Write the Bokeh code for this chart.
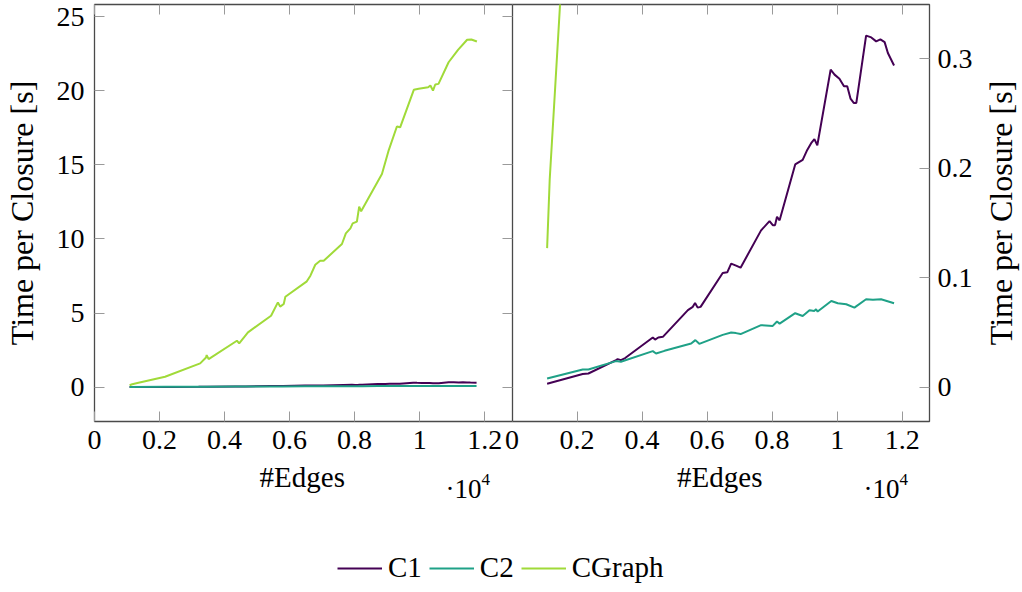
import math
from bokeh.plotting import figure
from bokeh.layouts import column, row
from bokeh.models import Range1d, LinearAxis, FixedTicker, Label, Legend, LegendItem
from bokeh.embed import file_html
from bokeh.resources import INLINE

# ---------------- data ----------------
c1_edges = [1080, 2175, 2350, 3200, 3250, 3350, 3480, 4330, 4400, 4500, 4640, 5410, 5560, 5630, 5710, 5800,
            6480, 6620, 6740, 6890, 7030, 7660, 7920, 8020, 8090, 8150, 8230, 8710, 8940, 9080, 9200, 9300,
            9390, 9800, 9920, 10070, 10210, 10310, 10410, 10510, 10590, 10890, 11050, 11200, 11330, 11460,
            11560, 11750]
c1_time = [0.003, 0.012, 0.0124, 0.0246, 0.0255, 0.0246, 0.0265, 0.0453, 0.0434, 0.0453, 0.0459, 0.0703,
           0.0733, 0.0769, 0.0726, 0.0733, 0.1043, 0.1049, 0.1128, 0.111, 0.1091, 0.1432, 0.1517, 0.148,
           0.148, 0.1557, 0.1524, 0.2035, 0.2077, 0.2168, 0.2229, 0.2266, 0.221, 0.2901, 0.2856, 0.2819,
           0.2749, 0.2749, 0.2637, 0.2597, 0.2597, 0.3212, 0.3196, 0.316, 0.3178, 0.3153, 0.3053, 0.294]

c2_edges = [1080, 2175, 2350, 3200, 3350, 4330, 4430, 4690, 5510, 5640, 5760, 6480, 6740, 6890, 7030, 7660,
            8020, 8150, 8230, 8710, 8940, 9150, 9300, 9350, 9400, 9820, 10020, 10280, 10530, 10890, 11100,
            11350, 11750]
c2_time = [0.0078, 0.0161, 0.0161, 0.0237, 0.0231, 0.0328, 0.0307, 0.0331, 0.0398, 0.0429, 0.0395, 0.0477,
           0.0498, 0.0493, 0.0484, 0.0566, 0.0559, 0.0599, 0.058, 0.0675, 0.065, 0.0702, 0.0696, 0.0711,
           0.069, 0.0787, 0.0766, 0.0757, 0.0726, 0.0803, 0.0797, 0.0803, 0.0766]

cgraph_edges = [1080, 1160, 1320, 2170, 3250, 3430, 3450, 3510, 4380, 4450, 4720, 5430, 5640, 5710, 5820,
                5870, 6530, 6640, 6790, 6940, 7050, 7610, 7730, 7870, 7940, 8070, 8140, 8200, 8840, 9050,
                9300, 9400, 9820, 9970, 10260, 10330, 10410, 10480, 10580, 10890, 11180, 11460, 11590, 11760]
cgraph_time = [0.127, 0.19, 0.27, 0.70, 1.60, 2.00, 2.16, 1.89, 3.13, 2.95, 3.69, 4.82, 5.72, 5.43, 5.61,
               6.10, 7.14, 7.52, 8.26, 8.53, 8.53, 9.66, 10.38, 10.72, 11.05, 11.17, 12.18, 11.87, 14.39,
               16.0, 17.59, 17.54, 20.07, 20.14, 20.24, 20.36, 20.02, 20.43, 20.47, 21.93, 22.77, 23.45,
               23.47, 23.33]

series_names = ["C1", "C2", "CGraph"]
series_colors = ["#440154", "#1fa187", "#a0da39"]

x_tick_values = [0, 2000, 4000, 6000, 8000, 10000, 12000]
x_tick_labels = ["0", "0.2", "0.4", "0.6", "0.8", "1", "1.2"]
left_y_ticks = [0, 5, 10, 15, 20, 25]
right_y_ticks = [0, 0.1, 0.2, 0.3]
right_y_labels = ["0", "0.1", "0.2", "0.3"]
x_label = "#Edges"
y_label = "Time per Closure [s]"
x_scale_base = "\u00b710"
x_scale_exp = "4"

# ---------------- layout constants ----------------
X_MAX = 12840
LEFT_Y = (-2.324, 25.83)
RIGHT_Y = (-0.0315, 0.3497)
W, H = 1022, 592
FL, FT, FW, FH = 93, 4, 835, 417
FB = 37                      # bottom border of the main figure
FR = 50                      # right border of the main figure (tick labels only)
MAIN_H = FT + FH + FB
MAIN_W = FL + FW + FR
FONT = "Liberation Serif"
FRAME_COLOR = "#4a4a4a"
TICK_COLOR = "#9a9a9a"

p = figure(frame_width=FW, frame_height=FH, min_border_left=FL, min_border_right=FR,
           min_border_top=FT, min_border_bottom=FB,
           x_range=Range1d(0, 2 * X_MAX), y_range=Range1d(*LEFT_Y),
           output_backend="svg", toolbar_location=None, background_fill_color="white",
           border_fill_color="white")
p.extra_x_ranges = {"right": Range1d(-X_MAX, X_MAX)}
p.extra_y_ranges = {"right": Range1d(*RIGHT_Y)}
p.grid.visible = False
p.outline_line_color = FRAME_COLOR
p.outline_line_width = 1.3

all_edges = [c1_edges, c2_edges, cgraph_edges]
all_times = [c1_time, c2_time, cgraph_time]

# left panel (full scale) and right panel (zoomed scale)
for e, t, c in zip(all_edges, all_times, series_colors):
    p.line(e, t, line_color=c, line_width=2)
for e, t, c in zip(all_edges, all_times, series_colors):
    p.line(e, t, line_color=c, line_width=2, x_range_name="right", y_range_name="right")

ticks_all = x_tick_values + [X_MAX + v for v in x_tick_values]
overrides = {}
for v, lab in zip(x_tick_values, x_tick_labels):
    overrides[v] = lab
    overrides[X_MAX + v] = lab


def style_axis(ax):
    ax.major_tick_in = 10
    ax.major_tick_out = 0
    ax.minor_tick_line_color = None
    ax.major_tick_line_color = TICK_COLOR
    ax.major_tick_line_width = 1
    ax.axis_line_color = None
    ax.major_label_text_font = FONT
    ax.major_label_text_font_size = "28px"
    ax.major_label_text_color = "black"
    ax.axis_label_text_font = FONT
    ax.axis_label_text_font_style = "normal"
    ax.axis_label_text_font_size = "32px"
    ax.axis_label_text_color = "black"


def hide_labels(ax, ticks):
    ax.major_label_overrides = {v: "" for v in ticks}
    ax.major_label_text_color = None
    ax.major_label_text_font_size = "1px"
    ax.major_label_standoff = 0


xb = p.xaxis[0]
style_axis(xb)
xb.ticker = FixedTicker(ticks=ticks_all)
xb.major_label_overrides = overrides
xb.major_label_standoff = 9

xt = LinearAxis(ticker=FixedTicker(ticks=ticks_all))
style_axis(xt)
hide_labels(xt, ticks_all)
p.add_layout(xt, "above")

yl = p.yaxis[0]
style_axis(yl)
yl.ticker = FixedTicker(ticks=left_y_ticks)
yl.axis_label = y_label
yl.major_label_standoff = 10
yl.axis_label_standoff = 14

yr = LinearAxis(y_range_name="right", ticker=FixedTicker(ticks=right_y_ticks))
style_axis(yr)
yr.major_label_overrides = {v: s for v, s in zip(right_y_ticks, right_y_labels)}
yr.major_label_standoff = 8
p.add_layout(yr, "right")

# divider between the panels, carrying the left panel's right-hand ticks
ydiv = LinearAxis(fixed_location=X_MAX, ticker=FixedTicker(ticks=left_y_ticks))
style_axis(ydiv)
hide_labels(ydiv, left_y_ticks)
ydiv.axis_line_color = FRAME_COLOR
ydiv.axis_line_width = 1.3
p.add_layout(ydiv, "right")

# ---------------- right strip: title of the right y axis ----------------
PR_W = W - MAIN_W
pr = figure(frame_width=PR_W, frame_height=FH, min_border_left=0, min_border_right=0,
            min_border_top=FT, min_border_bottom=FB,
            x_range=Range1d(MAIN_W, W), y_range=Range1d(0, 1),
            x_axis_location=None, y_axis_location=None, output_backend="svg",
            toolbar_location=None, background_fill_color="white", border_fill_color="white")
pr.outline_line_color = None
pr.grid.visible = False
pr.add_layout(Label(x=999, y=0.5, text=y_label, angle=math.pi / 2, text_font=FONT,
                    text_font_size="32px", text_align="center", text_baseline="middle",
                    text_color="black"))

# ---------------- lower strip: axis titles, scale notes, legend ----------------
HB = H - MAIN_H
pb = figure(frame_width=FW, frame_height=HB, min_border_left=FL, min_border_right=W - FL - FW,
            min_border_top=0, min_border_bottom=0,
            x_range=Range1d(FL, FL + FW), y_range=Range1d(H, MAIN_H),
            x_axis_location=None, y_axis_location=None, output_backend="svg",
            toolbar_location=None, background_fill_color="white", border_fill_color="white")
pb.outline_line_color = None
pb.grid.visible = False

legend_renderers = []
for e, t, c in zip(all_edges, all_times, series_colors):
    r = pb.line(e, t, line_color=c, line_width=2)
    r.visible = False
    legend_renderers.append(r)

for cx in [FL + FW / 4, FL + 3 * FW / 4]:
    pb.add_layout(Label(x=cx, y=476, text=x_label, text_font=FONT, text_font_size="29px",
                        text_align="center", text_baseline="middle", text_color="black"))
for bx in [445, 863]:
    pb.add_layout(Label(x=bx, y=488, text=x_scale_base, text_font=FONT, text_font_size="27px",
                        text_align="left", text_baseline="middle", text_color="black"))
    pb.add_layout(Label(x=bx + 36, y=479, text=x_scale_exp, text_font=FONT, text_font_size="17px",
                        text_align="left", text_baseline="middle", text_color="black"))

legend = Legend(items=[LegendItem(label=n, renderers=[r]) for n, r in zip(series_names, legend_renderers)],
                location=(337 - FL, 8), orientation="horizontal", glyph_width=45, glyph_height=20,
                label_standoff=6, spacing=7, padding=0, margin=0, border_line_color=None,
                background_fill_alpha=0, inactive_fill_alpha=0, label_text_font=FONT,
                label_text_font_size="29px", label_text_color="black")
pb.add_layout(legend)

layout = column(row(p, pr, spacing=0), pb, spacing=0)
open("out.html", "w").write(file_html(layout, INLINE))
